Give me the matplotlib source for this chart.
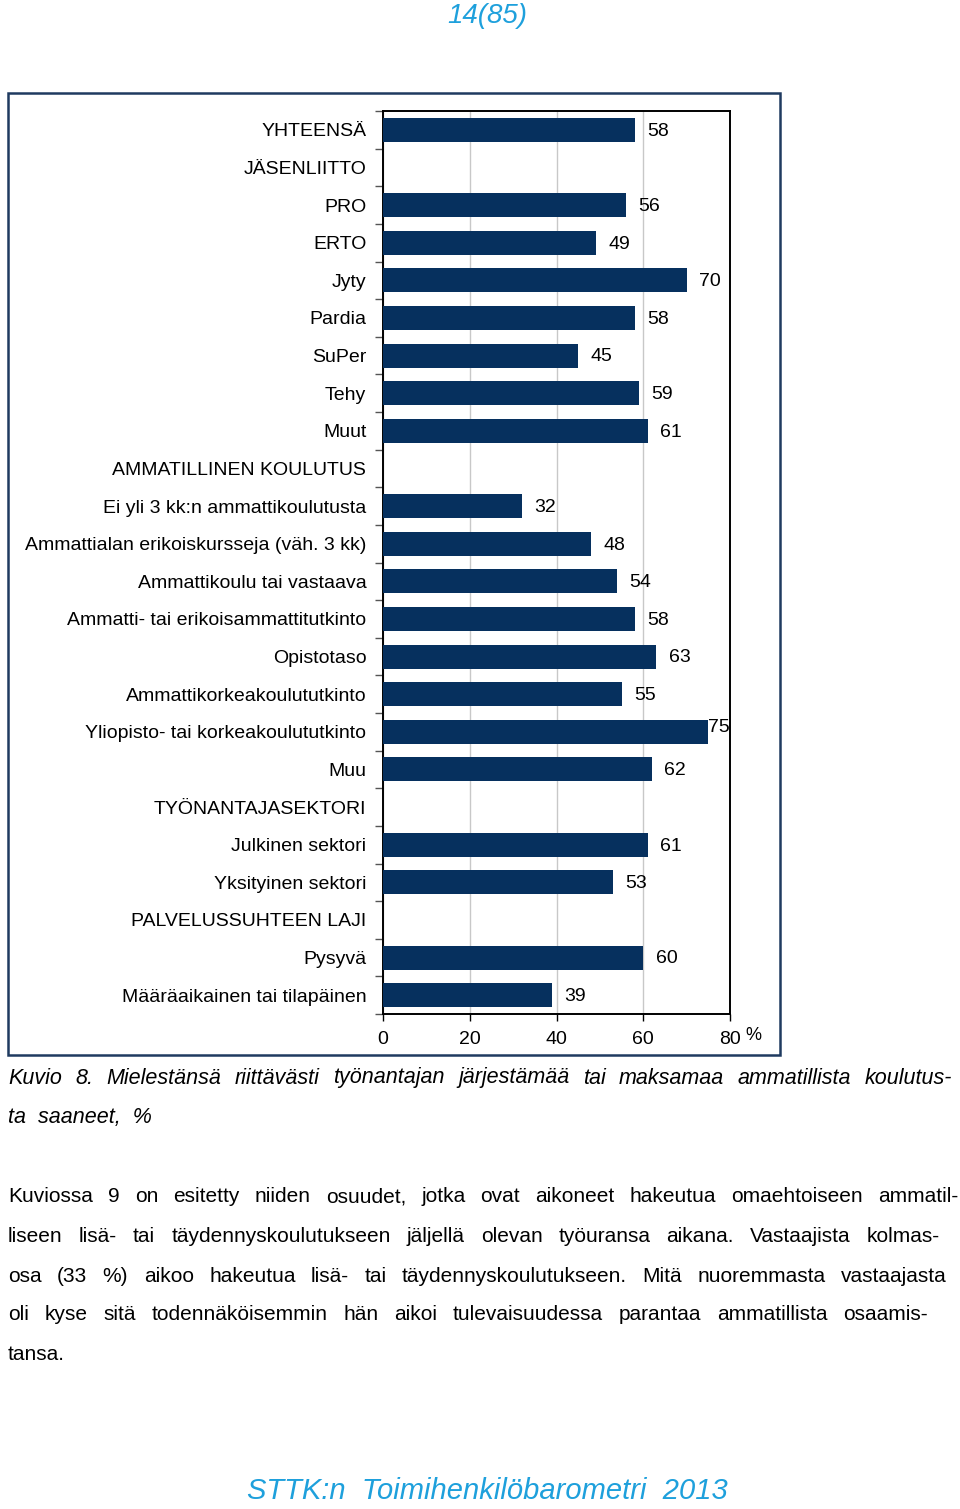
import numpy as np
import matplotlib
matplotlib.use("Agg")
import matplotlib.pyplot as plt
from matplotlib.patches import Rectangle

plt.rcParams['font.family'] = ['Liberation Sans', 'DejaVu Sans']

categories = [
    "YHTEENSÄ", "JÄSENLIITTO", "PRO", "ERTO", "Jyty", "Pardia", "SuPer", "Tehy", "Muut",
    "AMMATILLINEN KOULUTUS", "Ei yli 3 kk:n ammattikoulutusta",
    "Ammattialan erikoiskursseja (väh. 3 kk)", "Ammattikoulu tai vastaava",
    "Ammatti- tai erikoisammattitutkinto", "Opistotaso", "Ammattikorkeakoulututkinto",
    "Yliopisto- tai korkeakoulututkinto", "Muu", "TYÖNANTAJASEKTORI", "Julkinen sektori",
    "Yksityinen sektori", "PALVELUSSUHTEEN LAJI", "Pysyvä", "Määräaikainen tai tilapäinen",
]
values = [58, None, 56, 49, 70, 58, 45, 59, 61,
          None, 32, 48, 54, 58, 63, 55, 75, 62,
          None, 61, 53, None, 60, 39]
x_ticks = [0, 20, 40, 60, 80]

page_number = "14(85)"
caption_line1 = "Kuvio 8. Mielestänsä riittävästi työnantajan järjestämää tai maksamaa ammatillista koulutus-"
caption_line2 = "ta  saaneet,  %"
body_lines = [
    "Kuviossa 9 on esitetty niiden osuudet, jotka ovat aikoneet hakeutua omaehtoiseen ammatil-",
    "liseen lisä- tai täydennyskoulutukseen jäljellä olevan työuransa aikana. Vastaajista kolmas-",
    "osa (33 %) aikoo hakeutua lisä- tai täydennyskoulutukseen. Mitä nuoremmasta vastaajasta",
    "oli kyse sitä todennäköisemmin hän aikoi tulevaisuudessa parantaa ammatillista osaamis-",
    "tansa.",
]
footer = "STTK:n  Toimihenkilöbarometri  2013"

W, H = 960, 1509
BAR = "#06305e"
BLUE = "#1ea0dc"

fig = plt.figure(figsize=(W / 100, H / 100), dpi=100)

def fx(px):
    return px / W

def fy(py):
    return 1 - py / H

# outer frame
fig.patches.append(Rectangle((fx(8), fy(1055)), fx(780) - fx(8), fy(93) - fy(1055),
                             transform=fig.transFigure, fill=False,
                             edgecolor="#1f3a60", linewidth=1.8))

ax = fig.add_axes([fx(383), fy(1014), fx(730) - fx(383), fy(111) - fy(1014)])
n = len(categories)
ypos = np.arange(n)
yv = [y for y, v in zip(ypos, values) if v is not None]
vv = [v for v in values if v is not None]
ax.barh(yv, vv, height=0.64, color=BAR, zorder=3)

ax.set_xlim(0, 80)
ax.set_ylim(n - 0.5, -0.5)
ax.set_xticks(x_ticks)
ax.set_xticklabels([str(t) for t in x_ticks], fontsize=14)
ax.set_yticks(ypos)
ax.set_yticklabels(categories, fontsize=14)
ax.set_yticks(np.arange(n + 1) - 0.5, minor=True)
ax.tick_params(axis='y', which='major', length=0, pad=12)
ax.tick_params(axis='y', which='minor', length=6, width=1, direction='out', color='#555555')
ax.tick_params(axis='x', which='major', length=5, width=1, direction='out', pad=7)
ax.xaxis.grid(True, color="#c8c8c8", linewidth=1, zorder=0)
for s in ax.spines.values():
    s.set_color("black")
    s.set_linewidth(1.4)

for y, v in zip(yv, vv):
    if v + 7 > 80:
        ax.annotate(str(v), (v, y), xytext=(0, 3), textcoords='offset points',
                    ha='left', va='center', fontsize=14, zorder=4)
    else:
        ax.annotate(str(v), (v, y), xytext=(9, -1), textcoords='offset points',
                    ha='left', va='center', fontsize=14, zorder=4)

fig.text(fx(745), fy(1036), "%", fontsize=13, ha='left', va='center')

# page number and footer
fig.text(fx(487), fy(16), page_number, fontsize=20, style='italic', color=BLUE,
         ha='center', va='center')
fig.text(fx(487), fy(1491), footer, fontsize=21, style='italic', color=BLUE,
         ha='center', va='center')

renderer = fig.canvas.get_renderer()

def justified(line, y_px, x0, x1, **kw):
    words = line.split(" ")
    texts = [fig.text(0, fy(y_px), w, va='center', ha='left', **kw) for w in words]
    widths = [t.get_window_extent(renderer).width for t in texts]
    gap = (x1 - x0 - sum(widths)) / (len(words) - 1)
    x = x0
    for t, w in zip(texts, widths):
        t.set_x(fx(x))
        x += w + gap

cap_kw = dict(fontsize=15.5, style='italic', family=['Liberation Sans Narrow', 'Liberation Sans'])
justified(caption_line1, 1078, 8, 952, **cap_kw)
fig.text(fx(8), fy(1117), caption_line2, va='center', ha='left', **cap_kw)

body_kw = dict(fontsize=15)
rights = [958, 940, 947, 928, None]
body_y = [1197, 1236, 1276, 1315, 1355]
for line, r, y in zip(body_lines, rights, body_y):
    if r is None:
        fig.text(fx(8), fy(y), line, va='center', ha='left', **body_kw)
    else:
        justified(line, y, 8, r, **body_kw)

fig.savefig("out.png", dpi=100)
